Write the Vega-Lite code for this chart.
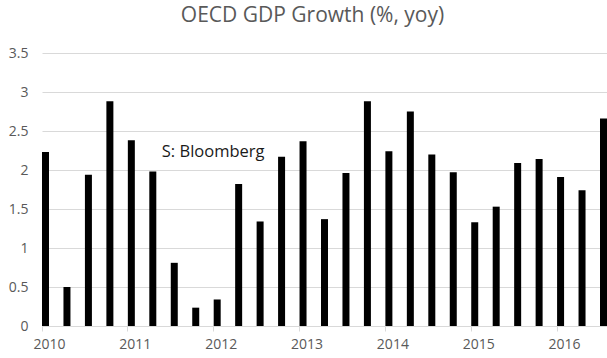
{
  "$schema": "https://vega.github.io/schema/vega-lite/v6.json",
  "autosize": {"type": "none"},
  "padding": {"left": 42, "top": 53, "right": 0, "bottom": 32},
  "width": 565,
  "height": 273,
  "background": "white",
  "config": {
    "view": {"stroke": null},
    "font": "Open Sans",
    "axisX": {
      "labelAngle": 0,
      "bandPosition": 0,
      "labelOffset": 4,
      "labelFont": "Open Sans",
      "labelFontSize": 14,
      "labelColor": "#595959",
      "labelPadding": 6,
      "domainColor": "#d9d9d9",
      "tickColor": "#d9d9d9",
      "tickSize": 5,
      "grid": false
    },
    "axisY": {
      "domain": false,
      "ticks": false,
      "grid": true,
      "gridColor": "#d9d9d9",
      "labelFont": "Open Sans",
      "labelFontSize": 14,
      "labelColor": "#595959",
      "labelPadding": 14,
      "labelOverlap": false,
      "tickCount": 8
    }
  },
  "title": {
    "text": "OECD GDP Growth (%, yoy)",
    "font": "Open Sans",
    "fontSize": 21,
    "fontWeight": "normal",
    "color": "#595959",
    "baseline": "alphabetic",
    "offset": 3,
    "dx": -12
  },
  "layer": [
    {
      "data": {
        "values": [
          {"quarter": "2010 Q1", "growth": 2.23},
          {"quarter": "2010 Q2", "growth": 0.50},
          {"quarter": "2010 Q3", "growth": 1.94},
          {"quarter": "2010 Q4", "growth": 2.88},
          {"quarter": "2011 Q1", "growth": 2.38},
          {"quarter": "2011 Q2", "growth": 1.98},
          {"quarter": "2011 Q3", "growth": 0.81},
          {"quarter": "2011 Q4", "growth": 0.235},
          {"quarter": "2012 Q1", "growth": 0.34},
          {"quarter": "2012 Q2", "growth": 1.82},
          {"quarter": "2012 Q3", "growth": 1.34},
          {"quarter": "2012 Q4", "growth": 2.17},
          {"quarter": "2013 Q1", "growth": 2.37},
          {"quarter": "2013 Q2", "growth": 1.37},
          {"quarter": "2013 Q3", "growth": 1.96},
          {"quarter": "2013 Q4", "growth": 2.88},
          {"quarter": "2014 Q1", "growth": 2.24},
          {"quarter": "2014 Q2", "growth": 2.75},
          {"quarter": "2014 Q3", "growth": 2.20},
          {"quarter": "2014 Q4", "growth": 1.97},
          {"quarter": "2015 Q1", "growth": 1.33},
          {"quarter": "2015 Q2", "growth": 1.53},
          {"quarter": "2015 Q3", "growth": 2.09},
          {"quarter": "2015 Q4", "growth": 2.14},
          {"quarter": "2016 Q1", "growth": 1.91},
          {"quarter": "2016 Q2", "growth": 1.74},
          {"quarter": "2016 Q3", "growth": 2.66}
        ]
      },
      "mark": {"type": "bar", "color": "black", "clip": true},
      "encoding": {
        "x": {
          "field": "quarter",
          "type": "ordinal",
          "scale": {"paddingInner": 0.674, "paddingOuter": 0, "align": 0},
          "axis": {
            "title": null,
            "values": ["2010 Q1", "2011 Q1", "2012 Q1", "2013 Q1", "2014 Q1", "2015 Q1", "2016 Q1"],
            "labelExpr": "substring(datum.value, 0, 4)"
          }
        },
        "y": {
          "field": "growth",
          "type": "quantitative",
          "scale": {"domain": [0, 3.5], "nice": false},
          "axis": {
            "title": null,
            "values": [0, 0.5, 1, 1.5, 2, 2.5, 3, 3.5],
            "format": ".1~f"
          }
        }
      }
    },
    {
      "data": {"values": [{"note": "S: Bloomberg"}]},
      "mark": {
        "type": "text",
        "align": "left",
        "baseline": "alphabetic",
        "font": "Open Sans",
        "fontSize": 16.5,
        "color": "#1a1a1a",
        "dx": 9
      },
      "encoding": {
        "text": {"field": "note"},
        "x": {
          "datum": "2011 Q2",
          "type": "ordinal",
          "axis": {
            "title": null,
            "values": ["2010 Q1", "2011 Q1", "2012 Q1", "2013 Q1", "2014 Q1", "2015 Q1", "2016 Q1"],
            "labelExpr": "substring(datum.value, 0, 4)"
          }
        },
        "y": {
          "datum": 2.17,
          "type": "quantitative",
          "axis": {
            "title": null,
            "values": [0, 0.5, 1, 1.5, 2, 2.5, 3, 3.5],
            "format": ".1~f"
          }
        }
      }
    }
  ]
}
